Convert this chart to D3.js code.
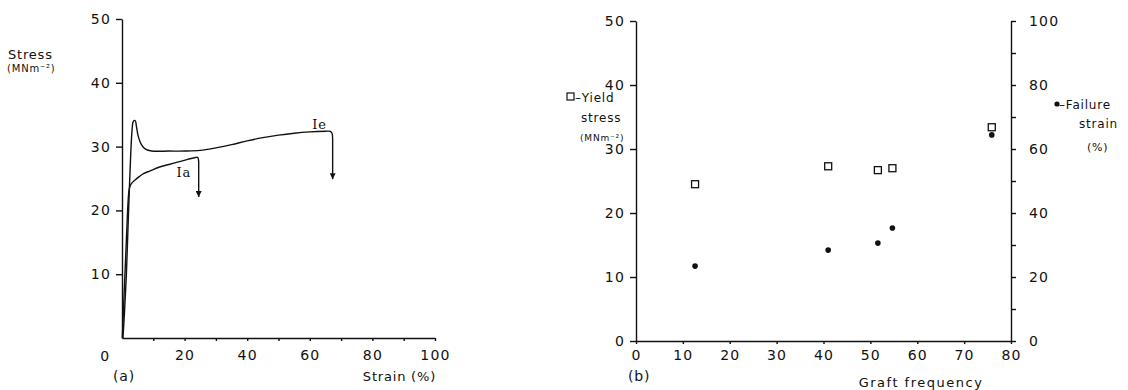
<!DOCTYPE html>
<html>
<head>
<meta charset="utf-8">
<script src="https://cdn.jsdelivr.net/npm/d3@7"></script>
<style>
  body { margin: 0; background: #fff; }
  svg { display: block; }
  text { font-family: "DejaVu Sans", sans-serif; fill: #111; letter-spacing: 0.8px; }
  .axis path, .axis line { stroke: #111; stroke-width: 1.4; }
  .axis text { font-size: 14px; letter-spacing: 1.2px; }
</style>
</head>
<body>
<svg id="chart" width="1128" height="390"></svg>
<script>
// (a) stress-strain curves: [strain %, stress MNm-2]
var curveIe = [[0.3, 0], [0.8, 4], [1.4, 10], [1.9, 17], [2.4, 24], [2.8, 29], [3.2, 32.5],
  [3.5, 33.8], [3.9, 34.1], [4.3, 34.0], [4.6, 33.2], [5.2, 31.6], [6.2, 30.3], [7.5, 29.6],
  [9.5, 29.3], [15, 29.3], [20, 29.3], [25, 29.4], [30, 29.8], [35, 30.3], [40, 30.9],
  [45, 31.4], [50, 31.8], [55, 32.1], [60, 32.3], [65, 32.4], [66.5, 32.4], [67.1, 32.1], [67.3, 31.2]];
var curveIa = [[0.1, 0], [0.6, 6], [1.2, 13], [1.7, 19], [2.2, 23.0], [2.5, 23.7], [3.0, 24.2],
  [4, 24.7], [5.5, 25.3], [7, 25.8], [9, 26.2], [12, 26.8], [15, 27.2], [18, 27.6], [21, 28.0], [23.5, 28.3],
  [24.2, 28.3], [24.5, 27.6]];
// failure drop: [strain, from stress, to stress]
var failIe = [67.3, 31.2, 24.9];
var failIa = [24.5, 27.6, 22.1];
var curveLabels = [["Ie", 60.8, 32.7], ["Ia", 17.4, 25.2]];

// (b) graft frequency series
var graftFreq = [12.6, 41.0, 51.6, 54.7, 75.9];
var yieldStress = [24.5, 27.3, 26.7, 27.0, 33.4];
var failureStrain = [23.4, 28.4, 30.6, 35.3, 64.4];

var stressTicks = [10, 20, 30, 40, 50];
var strainTicks = [20, 40, 60, 80, 100];
var graftTicks = [0, 10, 20, 30, 40, 50, 60, 70, 80];
var failTicks = [0, 20, 40, 60, 80, 100];

var svg = d3.select("#chart");

svg.append("defs").append("marker")
  .attr("id", "arrow")
  .attr("viewBox", "0 0 10 10")
  .attr("refX", 10).attr("refY", 5)
  .attr("markerWidth", 9).attr("markerHeight", 6)
  .attr("markerUnits", "userSpaceOnUse")
  .attr("orient", "auto")
  .append("path").attr("d", "M0,0L10,5L0,10Z").attr("fill", "#111");

// ---------- panel (a) ----------
var xa = d3.scaleLinear().domain([0, 100]).range([122, 435]);
var ya = d3.scaleLinear().domain([0, 50]).range([338, 19]);

svg.append("g").attr("class", "axis")
  .attr("transform", "translate(122,0)")
  .call(d3.axisLeft(ya).tickValues(stressTicks).tickSizeInner(6).tickSizeOuter(0).tickPadding(5));

svg.append("g").attr("class", "axis")
  .attr("transform", "translate(0,338)")
  .call(d3.axisBottom(xa).tickValues(d3.range(10, 101, 10)).tickSizeInner(3).tickSizeOuter(0).tickPadding(9)
    .tickFormat(function(d) { return strainTicks.indexOf(d) >= 0 ? d : ""; }));

svg.append("text").attr("x", 105).attr("y", 361).attr("text-anchor", "middle").style("font-size", "14px").text("0");

var line = d3.line().x(function(d) { return xa(d[0]); }).y(function(d) { return ya(d[1]); }).curve(d3.curveCatmullRom);

[curveIe, curveIa].forEach(function(c) {
  svg.append("path").attr("d", line(c))
    .attr("fill", "none").attr("stroke", "#111").attr("stroke-width", 1.4);
});

[failIe, failIa].forEach(function(f) {
  svg.append("line")
    .attr("x1", xa(f[0])).attr("x2", xa(f[0]))
    .attr("y1", ya(f[1])).attr("y2", ya(f[2]))
    .attr("stroke", "#111").attr("stroke-width", 1.4)
    .attr("marker-end", "url(#arrow)");
});

svg.selectAll(".clabel").data(curveLabels).enter().append("text")
  .attr("class", "clabel")
  .attr("x", function(d) { return xa(d[1]); })
  .attr("y", function(d) { return ya(d[2]); })
  .style("font-size", "13px").style("font-family", "'DejaVu Serif', serif")
  .text(function(d) { return d[0]; });

svg.append("text").attr("x", 8).attr("y", 59).style("font-size", "13px").text("Stress");
svg.append("text").attr("x", 7).attr("y", 72).style("font-size", "10px").text("(MNm\u207B\u00B2)");
svg.append("text").attr("x", 113).attr("y", 381).style("font-size", "14px").text("(a)");
svg.append("text").attr("x", 436).attr("y", 381).attr("text-anchor", "end").style("font-size", "13px").text("Strain (%)");

// ---------- panel (b) ----------
var xb = d3.scaleLinear().domain([0, 80]).range([636, 1011]);
var yb = d3.scaleLinear().domain([0, 50]).range([341, 21]);
var yb2 = d3.scaleLinear().domain([0, 100]).range([341, 21]);

svg.append("g").attr("class", "axis")
  .attr("transform", "translate(636,0)")
  .call(d3.axisLeft(yb).tickValues([0, 10, 20, 30, 40, 50]).tickSizeInner(6).tickSizeOuter(0).tickPadding(5));

svg.append("g").attr("class", "axis")
  .attr("transform", "translate(1011,0)")
  .call(d3.axisRight(yb2).tickValues(d3.range(0, 101, 10)).tickSizeInner(5).tickSizeOuter(0).tickPadding(13)
    .tickFormat(function(d) { return failTicks.indexOf(d) >= 0 ? d : ""; }));

svg.append("g").attr("class", "axis")
  .attr("transform", "translate(0,341)")
  .call(d3.axisBottom(xb).tickValues(graftTicks).tickSizeInner(3).tickSizeOuter(0).tickPadding(6));

svg.selectAll(".sq").data(graftFreq).enter().append("rect")
  .attr("class", "sq")
  .attr("x", function(d) { return xb(d) - 3.5; })
  .attr("y", function(d, i) { return yb(yieldStress[i]) - 3.5; })
  .attr("width", 7).attr("height", 7)
  .attr("fill", "#fff").attr("stroke", "#111").attr("stroke-width", 1.3);

svg.selectAll(".dot").data(graftFreq).enter().append("circle")
  .attr("class", "dot")
  .attr("cx", function(d) { return xb(d); })
  .attr("cy", function(d, i) { return yb2(failureStrain[i]); })
  .attr("r", 2.8).attr("fill", "#111");

// legend texts
svg.append("rect").attr("x", 567).attr("y", 93).attr("width", 7).attr("height", 7)
  .attr("fill", "#fff").attr("stroke", "#111").attr("stroke-width", 1.2);
svg.append("text").attr("x", 575).attr("y", 102).style("font-size", "12px").text("\u2013Yield");
svg.append("text").attr("x", 581).attr("y", 122).style("font-size", "12px").text("stress");
svg.append("text").attr("x", 580).attr("y", 141).style("font-size", "9px").text("(MNm\u207B\u00B2)");

svg.append("circle").attr("cx", 1057).attr("cy", 104).attr("r", 2.6).attr("fill", "#111");
svg.append("text").attr("x", 1059).attr("y", 109).style("font-size", "12px").text("\u2013Failure");
svg.append("text").attr("x", 1079).attr("y", 128).style("font-size", "12px").text("strain");
svg.append("text").attr("x", 1087).attr("y", 151).style("font-size", "11px").text("(%)");

svg.append("text").attr("x", 628).attr("y", 381).style("font-size", "14px").text("(b)");
svg.append("text").attr("x", 921).attr("y", 387).attr("text-anchor", "middle").style("font-size", "13px")
  .style("letter-spacing", "1.5px").text("Graft frequency");
</script>
</body>
</html>
